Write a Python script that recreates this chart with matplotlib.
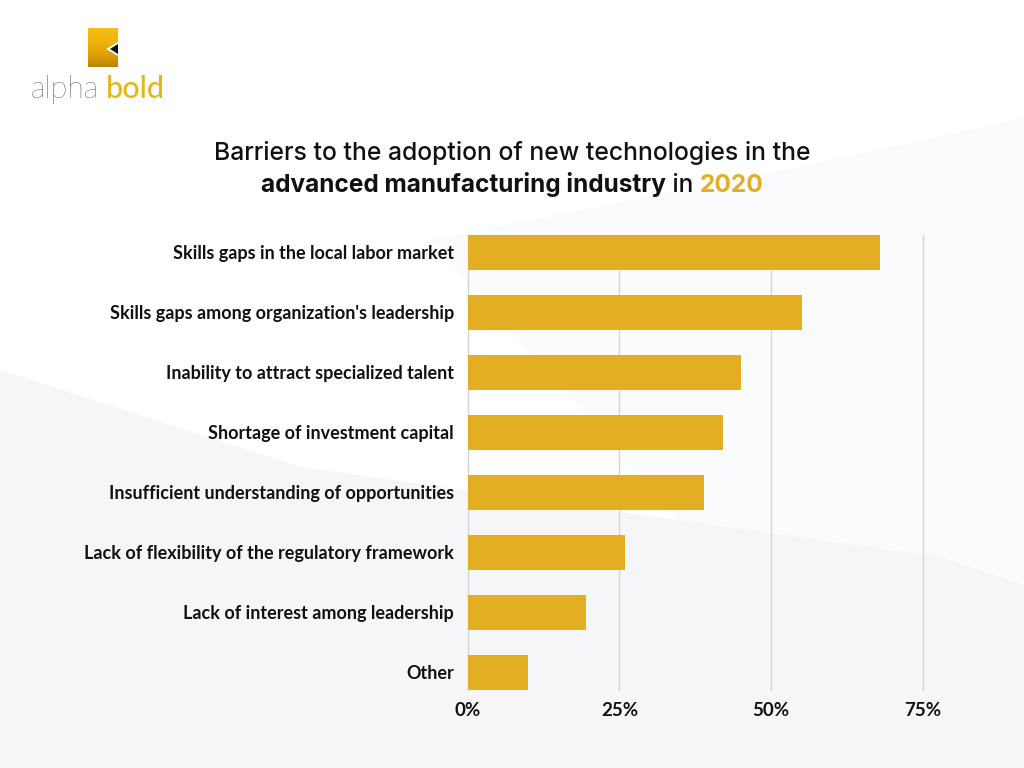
import matplotlib
matplotlib.use("Agg")
import matplotlib.pyplot as plt
from matplotlib.patches import Polygon
from matplotlib.colors import LinearSegmentedColormap
import numpy as np

categories = [
    "Skills gaps in the local labor market",
    "Skills gaps among organization's leadership",
    "Inability to attract specialized talent",
    "Shortage of investment capital",
    "Insufficient understanding of opportunities",
    "Lack of flexibility of the regulatory framework",
    "Lack of interest among leadership",
    "Other",
]
values = [68, 55, 45, 42, 39, 26, 19.5, 10]
xticks = [0, 25, 50, 75]
xtick_labels = ["0%", "25%", "50%", "75%"]

title_line1 = "Barriers to the adoption of new technologies in the"
title_line2_parts = [("advanced manufacturing industry", "bold", "#111111"),
                     (" in ", "medium", "#111111"),
                     ("2020", "bold", "#E3AE22")]

BAR = "#E3AE22"
W, H = 1024, 768
fig = plt.figure(figsize=(W / 100, H / 100), dpi=100)
fig.patch.set_facecolor("white")

def fx(x):
    return x / W

def fy(y):
    return 1 - y / H

# background shapes
bg = fig.add_axes([0, 0, 1, 1], zorder=-10)
bg.axis("off")
bg.add_patch(Polygon([(430, 240), (800, 167), (1024, 118), (1024, 768), (900, 768)],
                     closed=True, facecolor="#FAFBFC", edgecolor="none"))
bg.add_patch(Polygon([(0, 370), (300, 467), (940, 557), (1024, 585), (1024, 768), (0, 768)],
                     closed=True, facecolor="#F5F6F8", edgecolor="none"))

# logo
sq_x0, sq_y0, sq_w, sq_h = 88, 28, 30, 39
grad = np.linspace(0, 1, 100).reshape(-1, 1)
cmap = LinearSegmentedColormap.from_list("g", ["#F7BE12", "#F2B40C", "#E0A306", "#B98400"])
bg.imshow(grad, cmap=cmap, extent=[sq_x0, sq_x0 + sq_w, sq_y0 + sq_h, sq_y0], aspect="auto", zorder=2)
bg.add_patch(Polygon([(118, 42), (106, 49), (118, 56)], closed=True, facecolor="white", edgecolor="none", zorder=3))
bg.add_patch(Polygon([(118, 44), (110, 49), (118, 54)], closed=True, facecolor="#111111", edgecolor="none", zorder=4))
bg.set_xlim(0, W); bg.set_ylim(H, 0)

fig.text(fx(30), fy(98), "alpha", fontsize=22, family="Lato", fontweight="light",
         color="#000000", ha="left", va="baseline")
fig.text(fx(106), fy(98), "bold", fontsize=22, family="Lato", fontweight="medium",
         color="#E8B514", ha="left", va="baseline")

# title
TFONT = "Inter"
fig.text(0.5, fy(160), title_line1, fontsize=17.8, family=TFONT, fontweight="medium",
         color="#111111", ha="center", va="baseline")
fig.canvas.draw()
renderer = fig.canvas.get_renderer()
texts = []
for s, w, c in title_line2_parts:
    t = fig.text(0, fy(192), s, fontsize=17.6, family=TFONT, fontweight=w, color=c,
                 ha="left", va="baseline")
    texts.append(t)
widths = [t.get_window_extent(renderer).width for t in texts]
total = sum(widths)
x = W / 2 - total / 2
for t, wd in zip(texts, widths):
    t.set_x(fx(x))
    x += wd

# chart
x0, x1 = 467.5, 923
y_top, y_bot = 234.7, 689.7
ax = fig.add_axes([fx(x0), fy(y_bot), (x1 - x0) / W, (y_bot - y_top) / H])
ax.patch.set_alpha(0)
n = len(categories)
h = 35 / 60
pos = np.arange(n)
ax.barh(pos, values, height=h, color=BAR, zorder=3)
ax.set_ylim(n - 1 + h / 2, -h / 2)
ax.set_xlim(0, 75)
ax.set_xticks(xticks)
ax.set_xticklabels(xtick_labels, fontsize=13.5, family="Lato", fontweight="bold", color="#111111")
ax.set_yticks(pos)
ax.set_yticklabels(categories, fontsize=13.0, family="Lato", fontweight="bold", color="#111111")
ax.tick_params(axis="both", length=0)
ax.tick_params(axis="y", pad=9.7)
ax.tick_params(axis="x", pad=9)
ax.grid(axis="x", color="#D2D3D7", linewidth=1, zorder=0)
for gl in ax.get_xgridlines():
    gl.set_clip_on(False)
ax.set_axisbelow(True)
for sp in ax.spines.values():
    sp.set_visible(False)

fig.savefig("out.png", dpi=100, facecolor=fig.get_facecolor())
